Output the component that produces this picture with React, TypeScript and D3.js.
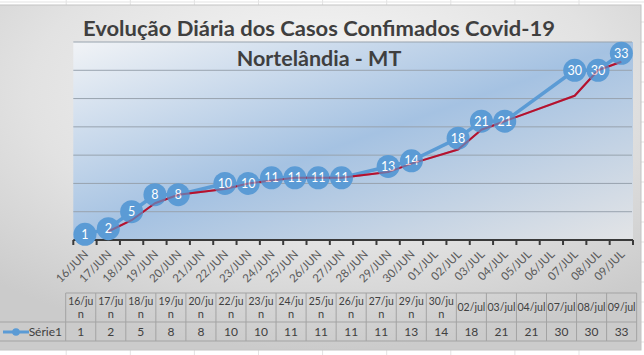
import React from "react";
import * as d3 from "d3";

const tableLabels = ["16/jun","17/jun","18/jun","19/jun","20/jun","22/jun","23/jun","24/jun","25/jun","26/jun","27/jun","29/jun","30/jun","02/jul","03/jul","04/jul","07/jul","08/jul","09/jul"];
const casos = [1,2,5,8,8,10,10,11,11,11,11,13,14,18,21,21,30,30,33];
const yTicks = [5,10,15,20,25,30,35];
const monthNames = ["JAN","FEV","MAR","ABR","MAI","JUN","JUL","AGO","SET","OUT","NOV","DEZ"];
const title1 = "Evolução Diária dos Casos Confimados Covid-19";
const title2 = "Nortelândia - MT";
const seriesName = "Série1";
const axisStart = new Date(2020, 5, 16);
const axisEnd = new Date(2020, 6, 10);

const W = 644, H = 355;
const FONT = "Lato, 'Open Sans', sans-serif";

const parseLabel = (s: string) => {
  const [d, m] = s.split("/");
  return new Date(2020, m === "jun" ? 5 : 6, +d, 12);
};

export default function App() {
  const plot = { l: 73.3, r: 633, t: 42, b: 240 };
  const x = d3.scaleTime().domain([axisStart, axisEnd]).range([plot.l, plot.r]);
  const y = d3.scaleLinear().domain([0, 35]).range([plot.b, plot.t]);

  const pts = casos.map((v, i) => ({ d: parseLabel(tableLabels[i]), v }));
  const line = d3.line<{ d: Date; v: number }>().x(p => x(p.d)).y(p => y(p.v));
  const ma = pts.slice(1).map((p, i) => ({ d: p.d, v: (p.v + pts[i].v) / 2 }));

  const tickDates = d3.timeDay.range(axisStart, d3.timeDay.offset(axisEnd, 1));
  const dayDates = d3.timeDay.range(axisStart, axisEnd).map(d => d3.timeHour.offset(d, 12));
  const fmt = (d: Date) => d3.timeFormat("%d")(d) + "/" + monthNames[d.getMonth()];

  const tbl = { x0: 65.7, colW: 30.05, top: 293, mid: 322, bot: 341 };
  const gridColor = "#a3a3a3";

  const sheetV = d3.range(2, 11).map(i => i * 64.1 - 62);
  const sheetH = d3.range(0, 18).map(i => 2 + i * 20);

  return (
    <svg width={W} height={H} style={{ position: "absolute", left: 0, top: 0, display: "block" }}>
      <defs>
        <radialGradient id="chartGrad" cx="50%" cy="25%" r="75%">
          <stop offset="0" stopColor="#f8f8f8" />
          <stop offset="0.6" stopColor="#e2e2e2" />
          <stop offset="1" stopColor="#cbcbcb" />
        </radialGradient>
        <linearGradient id="plotGrad" x1="0" y1="0" x2="1" y2="1">
          <stop offset="0" stopColor="#f1f3f6" />
          <stop offset="0.5" stopColor="#a5c2e2" />
          <stop offset="1" stopColor="#e3e4e6" />
        </linearGradient>
      </defs>
      <rect x={0} y={0} width={W} height={H} fill="#ffffff" />
      {sheetV.map((vx, i) => (
        <line key={"sv" + i} x1={vx} x2={vx} y1={0} y2={H} stroke="#e3e3e3" />
      ))}
      {sheetH.map((hy, i) => (
        <line key={"sh" + i} x1={0} x2={W} y1={hy} y2={hy} stroke="#e3e3e3" />
      ))}
      <rect x={-1} y={5} width={642} height={345} fill="url(#chartGrad)" stroke="#c4c4c4" />

      <rect x={plot.l} y={plot.t} width={plot.r - plot.l} height={plot.b - plot.t} fill="url(#plotGrad)" />
      {yTicks.map(t => (
        <line key={"g" + t} x1={plot.l} x2={plot.r - 1} y1={y(t)} y2={y(t)} stroke="#98a3ae" strokeWidth={1} />
      ))}

      <text x={319} y={36} textAnchor="middle" fontFamily={FONT} fontWeight="bold" fontSize={21.5} fill="#3f3f3f" textLength={472} lengthAdjust="spacingAndGlyphs">{title1}</text>
      <text x={319} y={66} textAnchor="middle" fontFamily={FONT} fontWeight="bold" fontSize={21.5} fill="#3f3f3f">{title2}</text>

      <line x1={plot.l} x2={plot.r} y1={plot.b} y2={plot.b} stroke="#3a3a3a" strokeWidth={2} />
      {tickDates.map((d, i) => (
        <line key={"t" + i} x1={x(d)} x2={x(d)} y1={plot.b} y2={plot.b + 5} stroke="#3a3a3a" strokeWidth={2} />
      ))}
      {dayDates.map((d, i) => (
        <text key={"xl" + i} transform={`translate(${x(d) + 4},${plot.b + 15}) rotate(-45)`} textAnchor="end" fontFamily={FONT} fontSize={11.5} fill="#595959">{fmt(d)}</text>
      ))}

      <path d={line(pts) || ""} fill="none" stroke="#5b9bd5" strokeWidth={3.5} strokeLinejoin="round" />
      <path d={line(ma) || ""} fill="none" stroke="#b5122e" strokeWidth={2} strokeLinejoin="round" />
      {pts.map((p, i) => (
        <g key={"p" + i}>
          <circle cx={x(p.d)} cy={y(p.v)} r={11.5} fill="#5b9bd5" />
          <text x={x(p.d)} y={y(p.v) + 4.5} textAnchor="middle" fontFamily={FONT} fontSize={12.5} fill="#ffffff">{p.v}</text>
        </g>
      ))}
      <path d={line(ma) || ""} fill="none" stroke="#b5122e" strokeWidth={2} strokeOpacity={0.35} strokeLinejoin="round" />

      {/* data table */}
      <line x1={tbl.x0} x2={tbl.x0 + tbl.colW * casos.length} y1={tbl.top} y2={tbl.top} stroke={gridColor} />
      <line x1={0} x2={tbl.x0 + tbl.colW * casos.length} y1={tbl.mid} y2={tbl.mid} stroke={gridColor} />
      <line x1={0} x2={tbl.x0 + tbl.colW * casos.length} y1={tbl.bot} y2={tbl.bot} stroke={gridColor} />
      {d3.range(casos.length + 1).map(i => (
        <line key={"tv" + i} x1={tbl.x0 + i * tbl.colW} x2={tbl.x0 + i * tbl.colW} y1={tbl.top} y2={tbl.bot} stroke={gridColor} />
      ))}
      {tableLabels.map((lab, i) => {
        const cx = tbl.x0 + (i + 0.5) * tbl.colW;
        const wrap = lab.endsWith("jun");
        return (
          <g key={"th" + i} fontFamily={FONT} fontSize={11} fill="#404040" textAnchor="middle">
            {wrap ? (
              <>
                <text x={cx} y={305} textLength={25} lengthAdjust="spacingAndGlyphs">{lab.slice(0, 5)}</text>
                <text x={cx} y={318}>{lab.slice(5)}</text>
              </>
            ) : (
              <text x={cx} y={311} textLength={28} lengthAdjust="spacingAndGlyphs">{lab}</text>
            )}
            <text x={cx} y={336} fontSize={12}>{casos[i]}</text>
          </g>
        );
      })}
      <line x1={3} x2={29} y1={332} y2={332} stroke="#5b9bd5" strokeWidth={3} />
      <circle cx={16} cy={332} r={3.8} fill="#5b9bd5" />
      <text x={62} y={336} textAnchor="end" fontFamily={FONT} fontSize={12} fill="#404040">{seriesName}</text>
    </svg>
  );
}
